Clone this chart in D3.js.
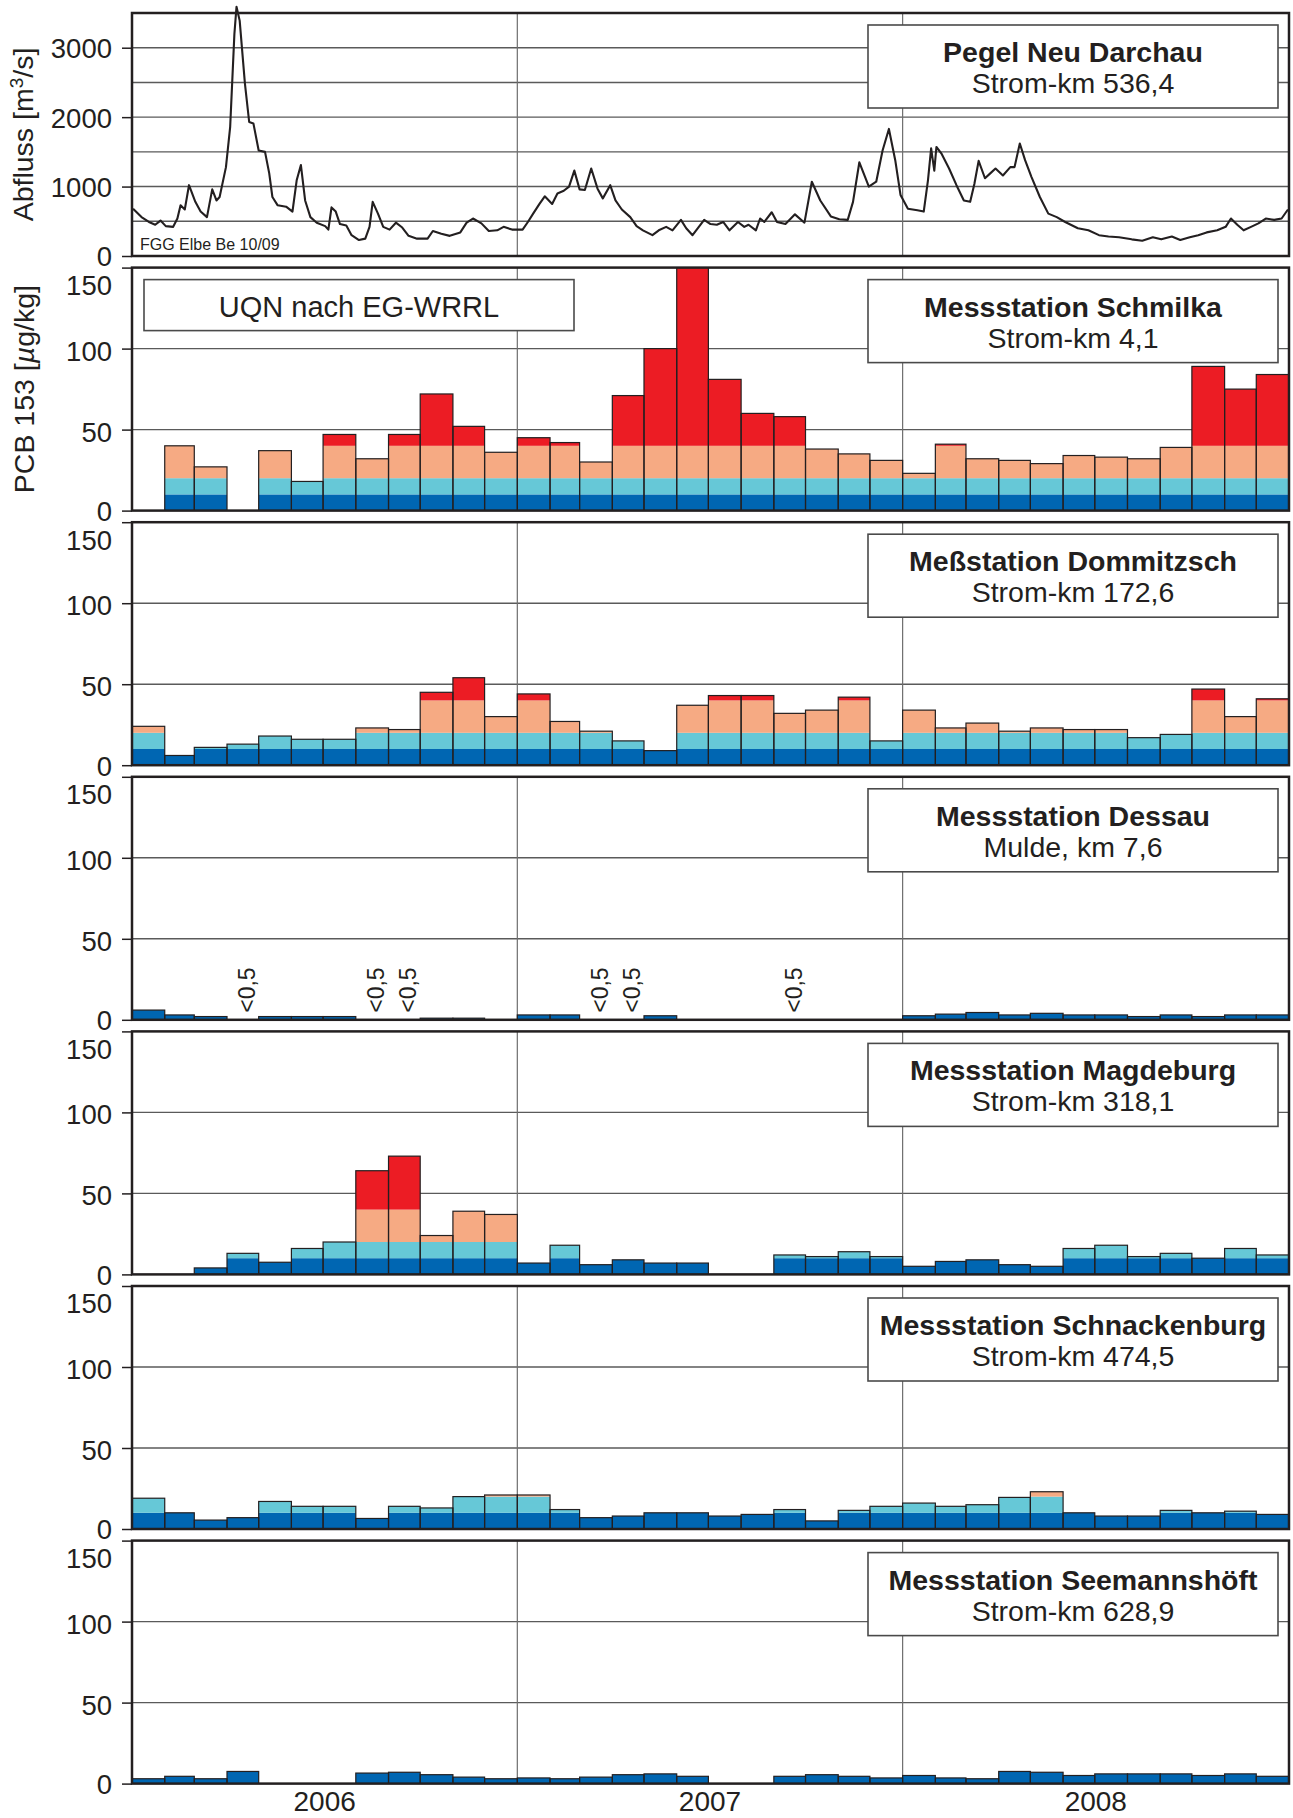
<!DOCTYPE html>
<html>
<head>
<meta charset="utf-8">
<script src="https://cdn.jsdelivr.net/npm/d3@7"></script>
<style>
  body { margin: 0; background: #fff; }
  svg { display: block; font-family: "Liberation Sans", Arial, Helvetica, sans-serif; }
</style>
</head>
<body>
<script>
// Abfluss Pegel Neu Darchau: Tage nach 2006-01-01 / m3/s
const flowDays = [1, 9, 16, 22, 27, 32, 39, 43, 46, 50, 54, 60, 65, 71, 76, 80, 83, 89, 93, 97,
  99, 102, 107, 111, 115, 120, 126, 130, 133, 138, 146, 152, 156, 160, 164, 169, 175, 183, 186, 189,
  193, 197, 203, 208, 215, 221, 225, 228, 233, 238, 244, 250, 256, 262, 270, 280, 285, 293, 301, 311,
  317, 323, 331, 338, 346, 352, 360, 370, 375, 380, 386, 391, 398, 403, 409, 414, 419, 424, 429, 435,
  441, 446, 453, 458, 464, 472, 478, 484,
  493, 499, 506, 512, 520, 525, 531, 542, 548, 554, 560, 566, 574, 580, 584, 591, 595, 599, 606, 611,
  619, 628, 637, 644, 652, 662, 670, 678, 683, 689, 698, 705, 711, 717, 723, 728, 735, 744, 750, 754,
  757, 760, 762, 767, 774, 781, 788, 794, 798, 802, 808, 813, 818, 825, 832, 836, 841, 846, 852, 860,
  868, 876, 884, 896, 906, 916, 925, 935, 947, 957, 967, 975, 985, 993, 1002, 1010, 1018, 1028, 1036, 1041,
  1047, 1053, 1060, 1067, 1074, 1082, 1089, 1095];
const flowValues = [680, 560, 490, 450, 510, 430, 420, 540, 730, 670, 1020, 780, 640, 560, 960, 800, 850, 1280, 1860, 3200,
  3590, 3390, 2480, 1930, 1910, 1520, 1500, 1190, 850, 730, 710, 640, 1090, 1310, 800, 560, 480, 430, 380, 700,
  640, 460, 440, 300, 230, 250, 420, 780, 610, 420, 380, 480, 410, 290, 250, 250, 360, 320, 290, 340,
  480, 540, 470, 360, 370, 420, 380, 380, 490, 610, 750, 860, 750, 900, 940, 1000, 1230, 960, 950, 1260,
  970, 830, 1020, 800, 670, 560, 430, 370,
  300, 370, 420, 370, 520, 400, 300, 520, 460, 450, 490, 370, 490, 420, 450, 370, 540, 490, 630, 490,
  460, 600, 480, 1070, 800, 570, 530, 520, 780, 1350, 1000, 1070, 1520, 1830, 1380, 880, 680, 660, 640, 1090,
  1550, 1230, 1570, 1470, 1260, 1020, 800, 780, 1040, 1370, 1120, 1190, 1260, 1160, 1280, 1280, 1620, 1380, 1140, 850,
  610, 560, 490, 400, 370, 300, 280, 270, 240, 220, 270, 240, 280, 230, 270, 300, 340, 370, 420, 540,
  450, 370, 420, 470, 540, 520, 540, 670];

// PCB 153 [µg/kg], Monatswerte Jan 2006 - Dez 2008 (null = kein Wert)
const schmilka = [null, 40, 27, null, 37, 18, 47, 32, 47, 72, 52, 36,
  45, 42, 30, 71, 100, 160, 81, 60, 58, 38, 35, 31,
  23, 41, 32, 31, 29, 34, 33, 32, 39, 89, 75, 84];
const dommitzsch = [24, 6, 11, 13, 18, 16, 16, 23, 22, 45, 54, 30,
  44, 27, 21, 15, 9, 37, 43, 43, 32, 34, 42, 15,
  34, 23, 26, 21, 23, 22, 22, 17, 19, 47, 30, 41];
const dessau = [6, 3, 2, "<0,5", 2, 2, 2, "<0,5", "<0,5", 1, 1, null,
  3, 3, "<0,5", "<0,5", 2.5, null, null, null, "<0,5", null, null, null,
  2.5, 3.5, 4.5, 3, 4, 3, 3, 2, 3, 2, 3, 3];
const magdeburg = [null, null, 4, 13, 7.5, 16, 20, 64, 73, 24, 39, 37,
  7, 18, 6, 9, 7, 7, null, null, 12, 11, 14, 11,
  5, 8, 9, 6, 5, 16, 18, 11, 13, 10, 16, 12];
const schnackenburg = [19, 10, 5.5, 7, 17, 14, 14, 6.5, 14, 13, 20, 21,
  21, 12, 7, 8, 10, 10, 8, 9, 12, 5, 11.5, 14,
  16, 14, 15, 19.5, 23, 10, 8, 8, 11.5, 10, 11, 9];
const seemannshoeft = [3, 4.5, 3, 7.5, null, null, null, 6.5, 7, 5.5, 4, 3,
  3.5, 3, 4, 5.5, 6, 4.5, null, null, 4.5, 5.5, 4.5, 3.5,
  5, 3.5, 3, 7.5, 7, 5, 6, 6, 6, 5, 6, 4.5];

const stationNames = ["Messstation Schmilka", "Meßstation Dommitzsch", "Messstation Dessau",
  "Messstation Magdeburg", "Messstation Schnackenburg", "Messstation Seemannshöft"];
const stationKm = ["Strom-km 4,1", "Strom-km 172,6", "Mulde, km 7,6",
  "Strom-km 318,1", "Strom-km 474,5", "Strom-km 628,9"];
const stationValues = [schmilka, dommitzsch, dessau, magdeburg, schnackenburg, seemannshoeft];

// Klassen: 0-10, 10-20, 20-40 (UQN), >40
const classBreaks = [0, 10, 20, 40, Infinity];
const classColors = ["#0066b2", "#66c8d7", "#f6aa83", "#ec1c24"];

const years = ["2006", "2007", "2008"];
const flowTicks = [0, 1000, 2000, 3000];
const pcbTicks = [0, 50, 100, 150];

const W = 1293, H = 1818;
const left = 132, right = 1289;
const panelH = 243, panelStep = 254.6, firstZero = 256;
const ink = "#231f20";

const svg = d3.select("body").append("svg")
  .attr("width", W).attr("height", H);

const t0 = new Date(Date.UTC(2006, 0, 1));
const x = d3.scaleUtc()
  .domain([t0, new Date(Date.UTC(2009, 0, 1))])
  .range([left, right]);
const yearStarts = [1, 2].map(k => d3.utcYear.offset(t0, k));

function frameAndGrid(g, y, gridVals, top, zero) {
  g.selectAll(".grid").data(gridVals).join("line")
    .attr("x1", left).attr("x2", right)
    .attr("y1", d => y(d)).attr("y2", d => y(d))
    .attr("stroke", "#5a5a5a").attr("stroke-width", 1.4);
  g.selectAll(".vline").data(yearStarts).join("line")
    .attr("x1", d => x(d)).attr("x2", d => x(d))
    .attr("y1", top).attr("y2", zero)
    .attr("stroke", "#6e6e6e").attr("stroke-width", 1.2);
}

function drawFrame(g, top, zero) {
  g.append("rect")
    .attr("x", left).attr("y", top)
    .attr("width", right - left).attr("height", zero - top)
    .attr("fill", "none").attr("stroke", ink).attr("stroke-width", 2.5);
}

function titleBox(g, top, line1, line2) {
  const bx = 868, bw = 410, by = top + 12, bh = 83;
  g.append("rect").attr("x", bx).attr("y", by).attr("width", bw).attr("height", bh)
    .attr("fill", "#fff").attr("stroke", "#4a4a4a").attr("stroke-width", 1.6);
  g.append("text").attr("x", bx + bw / 2).attr("y", by + 37)
    .attr("text-anchor", "middle").attr("font-size", 28.5).attr("font-weight", "bold")
    .attr("fill", ink).text(line1);
  g.append("text").attr("x", bx + bw / 2).attr("y", by + 68)
    .attr("text-anchor", "middle").attr("font-size", 28.5)
    .attr("fill", ink).text(line2);
}

function leftAxis(g, y, ticks, dy) {
  const ax = g.append("g")
    .attr("transform", `translate(${left},0)`)
    .call(d3.axisLeft(y).tickValues(ticks).tickSize(10).tickPadding(10).tickFormat(d3.format("d")));
  ax.select(".domain").remove();
  ax.selectAll("line").attr("stroke", ink).attr("stroke-width", 1.5);
  ax.selectAll("text")
    .attr("font-size", 27.5).attr("font-family", null).attr("fill", ink)
    .attr("dy", dy);
  return ax;
}

// ---- Abfluss ----
{
  const zero = firstZero, top = zero - panelH;
  const y = d3.scaleLinear().domain([0, 3500]).range([zero, top]);
  const g = svg.append("g");
  frameAndGrid(g, y, d3.range(500, 3500, 500), top, zero);

  const flow = flowDays.map((d, i) => ({ t: d3.utcDay.offset(t0, d), v: flowValues[i] }));
  g.append("path").datum(flow)
    .attr("fill", "none").attr("stroke", ink).attr("stroke-width", 2.1)
    .attr("stroke-linejoin", "round")
    .attr("d", d3.line().x(d => x(d.t)).y(d => y(d.v)));

  g.append("text").attr("x", 140).attr("y", zero - 6)
    .attr("font-size", 16).attr("fill", ink).text("FGG Elbe Be 10/09");

  drawFrame(g, top, zero);
  titleBox(g, top, "Pegel Neu Darchau", "Strom-km 536,4");
  const ax = leftAxis(g, y, flowTicks, "0.36em");
  ax.selectAll(".tick").filter(d => d === 0).select("text").attr("dy", "0.33em");

  const lab = svg.append("text")
    .attr("transform", `translate(33,${(top + zero) / 2}) rotate(-90)`)
    .attr("text-anchor", "middle").attr("font-size", 28.5).attr("fill", ink);
  lab.append("tspan").text("Abfluss [m");
  lab.append("tspan").attr("baseline-shift", "super").attr("font-size", 19).text("3");
  lab.append("tspan").text("/s]");
}

// ---- PCB 153 Stationen ----
stationValues.forEach((vals, i) => {
  const zero = firstZero + (i + 1) * panelStep, top = zero - panelH;
  const y = d3.scaleLinear().domain([0, 150]).range([zero, top]);
  const g = svg.append("g");
  frameAndGrid(g, y, [50, 100], top, zero);

  const clipId = "clip" + i;
  g.append("clipPath").attr("id", clipId)
    .append("rect").attr("x", left).attr("y", top).attr("width", right - left).attr("height", zero - top);

  const bars = vals.map((v, k) => ({
    v: v,
    x0: x(d3.utcMonth.offset(t0, k)),
    x1: x(d3.utcMonth.offset(t0, k + 1))
  }));
  const measured = bars.filter(d => typeof d.v === "number");

  const segs = [];
  measured.forEach(d => {
    classColors.forEach((c, j) => {
      const lo = classBreaks[j], hi = classBreaks[j + 1];
      if (d.v > lo) segs.push({ x0: d.x0, x1: d.x1, lo: lo, hi: Math.min(d.v, hi), c: c });
    });
  });

  const bg = g.append("g").attr("clip-path", `url(#${clipId})`);
  bg.selectAll(".seg").data(segs).join("rect")
    .attr("x", d => d.x0).attr("width", d => d.x1 - d.x0)
    .attr("y", d => y(d.hi)).attr("height", d => y(d.lo) - y(d.hi))
    .attr("fill", d => d.c);
  bg.selectAll(".bar").data(measured).join("rect")
    .attr("x", d => d.x0).attr("width", d => d.x1 - d.x0)
    .attr("y", d => y(d.v)).attr("height", d => zero - y(d.v))
    .attr("fill", "none").attr("stroke", ink).attr("stroke-width", 1.2);

  // Werte unter Bestimmungsgrenze
  g.selectAll(".lt").data(bars.filter(d => typeof d.v === "string")).join("text")
    .attr("transform", d => `translate(${(d.x0 + d.x1) / 2 + 12},${zero - 7}) rotate(-90)`)
    .attr("font-size", 23).attr("fill", ink).text(d => d.v);

  drawFrame(g, top, zero);
  titleBox(g, top, stationNames[i], stationKm[i]);
  const ax = leftAxis(g, y, pcbTicks, "0.42em");
  ax.selectAll(".tick").filter(d => d === 150).select("text").attr("dy", "0.98em");
  ax.selectAll(".tick").filter(d => d === 0).select("text").attr("dy", "0.36em");

  if (i === 0) {
    g.append("rect").attr("x", 144).attr("y", top + 12).attr("width", 430).attr("height", 51)
      .attr("fill", "#fff").attr("stroke", "#4a4a4a").attr("stroke-width", 1.6);
    g.append("text").attr("x", 359).attr("y", top + 49.5)
      .attr("text-anchor", "middle").attr("font-size", 29).attr("fill", ink)
      .text("UQN nach EG-WRRL");

    const lab = svg.append("text")
      .attr("transform", `translate(34,${(top + zero) / 2}) rotate(-90)`)
      .attr("text-anchor", "middle").attr("font-size", 28.5).attr("fill", ink);
    lab.append("tspan").text("PCB 153 [");
    lab.append("tspan").attr("font-style", "italic").text("µ");
    lab.append("tspan").text("g/kg]");
  }
});

// Jahresbeschriftung
svg.selectAll(".year").data(years).join("text")
  .attr("x", (d, k) => (x(d3.utcYear.offset(t0, k)) + x(d3.utcYear.offset(t0, k + 1))) / 2)
  .attr("y", 1811)
  .attr("text-anchor", "middle").attr("font-size", 28).attr("fill", ink)
  .text(d => d);
</script>
</body>
</html>
